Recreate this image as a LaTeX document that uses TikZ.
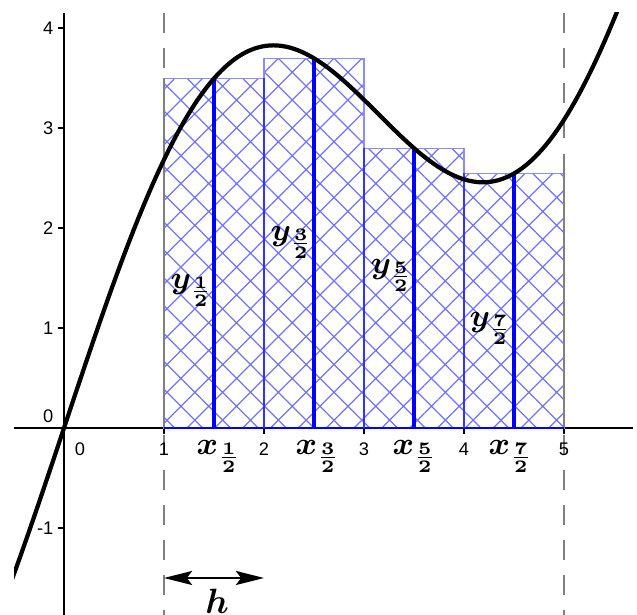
\documentclass[tikz,border=0pt]{standalone}
\usepackage{amsmath}
\usepackage{amssymb}
\usepackage{fontspec}
\setsansfont{Liberation Sans}
\usetikzlibrary{arrows.meta,patterns.meta}

\begin{document}
\begin{tikzpicture}[
        axis/.style={line width=0.55pt},
        tick/.style={line width=0.5pt},
        num/.style={font=\sffamily\fontsize{5.2}{6}\selectfont,inner sep=0pt},
        guide/.style={gray,line width=0.6pt,dash pattern=on 5.7pt off 4.3pt},
        bar/.style={draw=blue!45,line width=0.35pt,pattern={Hatch[angle=45,distance=5.6pt,line width=0.35pt]},pattern color=blue!55},
        edge/.style={gray,line width=0.6pt},
        mid/.style={blue,line width=0.9pt},
        lbl/.style={font=\fontsize{9.5}{11}\selectfont,inner sep=0pt},
        curve/.style={line width=1.2pt,black},
        harrow/.style={line width=0.6pt,{Stealth[length=8pt,width=4pt,inset=1.5pt]}-{Stealth[length=8pt,width=4pt,inset=1.5pt]}}
    ]
        \useasboundingbox (-0.64,-1.87) rectangle (5.73,4.28);

        \coordinate (O)  at (0,0);
        \coordinate (hL) at (1,-1.5);
        \coordinate (hR) at (2,-1.5);

        \begin{scope}
            \clip (-0.5,-1.87) rectangle (5.69,4.15);
            \draw[axis] (-0.5,0) -- (5.69,0);
            \draw[axis] (0,-1.87) -- (0,4.15);
            \draw[guide] (1,4.15) -- (1,-1.87);
            \draw[guide] (5,4.15) -- (5,-1.87);
        \end{scope}

        \draw[tick] (-0.06,4) -- (0,4);
        \draw[tick] (-0.06,3) -- (0,3);
        \draw[tick] (-0.06,2) -- (0,2);
        \draw[tick] (-0.06,1) -- (0,1);
        \draw[tick] (-0.06,-1) -- (0,-1);
        \draw[tick] (1,0) -- (1,-0.06);
        \draw[tick] (2,0) -- (2,-0.06);
        \draw[tick] (3,0) -- (3,-0.06);
        \draw[tick] (4,0) -- (4,-0.06);
        \draw[tick] (5,0) -- (5,-0.06);

        \node[num,anchor=east] (ly4) at (-0.1,4) {4};
        \node[num,anchor=east] (ly3) at (-0.1,3) {3};
        \node[num,anchor=east] (ly2) at (-0.1,2) {2};
        \node[num,anchor=east] (ly1) at (-0.1,1) {1};
        \node[num,anchor=east] (ly0) at (-0.1,0.12) {0};
        \node[num,anchor=east] (lym) at (-0.1,-1) {-1};
        \node[num] (lx0) at (0.16,-0.21) {0};
        \node[num] (lx1) at (1,-0.21) {1};
        \node[num] (lx2) at (2,-0.21) {2};
        \node[num] (lx3) at (3,-0.21) {3};
        \node[num] (lx4) at (4,-0.21) {4};
        \node[num] (lx5) at (5,-0.21) {5};

        \draw[bar] (1,0) rectangle (1.5,3.495);
        \draw[bar] (1.5,0) rectangle (2,3.495);
        \draw[bar] (2,0) rectangle (2.5,3.697);
        \draw[bar] (2.5,0) rectangle (3,3.697);
        \draw[bar] (3,0) rectangle (3.5,2.798);
        \draw[bar] (3.5,0) rectangle (4,2.798);
        \draw[bar] (4,0) rectangle (4.5,2.545);
        \draw[bar] (4.5,0) rectangle (5,2.545);

        \draw[edge] (1,0) -- (1,3.495);
        \draw[edge] (5,0) -- (5,2.545);
        \draw[blue,line width=0.6pt] (1,0) -- (5,0);
        \draw[blue!80,line width=0.5pt] (2,0) -- (2,3.495);
        \draw[blue!80,line width=0.5pt] (3,0) -- (3,2.798);
        \draw[blue!80,line width=0.5pt] (4,0) -- (4,2.545);
        \draw[mid] (1.5,0) -- (1.5,3.495);
        \draw[mid] (2.5,0) -- (2.5,3.697);
        \draw[mid] (3.5,0) -- (3.5,2.798);
        \draw[mid] (4.5,0) -- (4.5,2.545);

        \begin{scope}
            \clip (-0.5,-1.87) rectangle (5.69,4.15);
            \draw[curve] plot[domain=-0.6:5.8,samples=160,smooth] (\x,{\x+2*sin(\x r)});
        \end{scope}

        \node[lbl] (x1) at (1.55,-0.28) {$\boldsymbol{x_{\frac{1}{2}}}$};
        \node[lbl] (x3) at (2.54,-0.28) {$\boldsymbol{x_{\frac{3}{2}}}$};
        \node[lbl] (x5) at (3.51,-0.28) {$\boldsymbol{x_{\frac{5}{2}}}$};
        \node[lbl] (x7) at (4.47,-0.28) {$\boldsymbol{x_{\frac{7}{2}}}$};

        \node[lbl] (y1) at (1.28,1.38) {$\boldsymbol{y_{\frac{1}{2}}}$};
        \node[lbl] (y3) at (2.28,1.86) {$\boldsymbol{y_{\frac{3}{2}}}$};
        \node[lbl] (y5) at (3.28,1.53) {$\boldsymbol{y_{\frac{5}{2}}}$};
        \node[lbl] (y7) at (4.27,1.00) {$\boldsymbol{y_{\frac{7}{2}}}$};

        \draw[harrow] (hL) -- (hR);
        \node[lbl,font=\fontsize{10}{12}\selectfont,anchor=south] (h) at (1.53,-1.86) {$\boldsymbol{h}$};
    \end{tikzpicture}
\end{document}
